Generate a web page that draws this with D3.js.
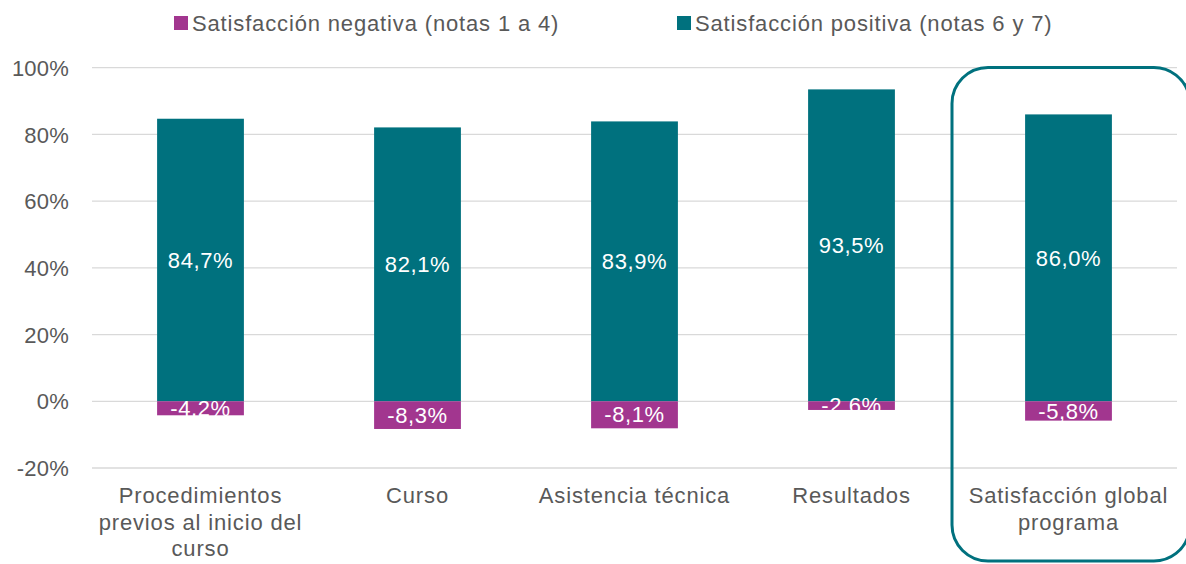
<!DOCTYPE html>
<html>
<head>
<meta charset="utf-8">
<script src="https://cdn.jsdelivr.net/npm/d3@7"></script>
<style>
  html, body { margin: 0; padding: 0; background: #fff; overflow: hidden; }
  svg { display: block; overflow: hidden; font-family: "Liberation Sans", Arial, sans-serif; }
</style>
</head>
<body>
<svg id="chart" width="1186" height="564"></svg>
<script>
const categories = [
  ["Procedimientos", "previos al inicio del", "curso"],
  ["Curso"],
  ["Asistencia técnica"],
  ["Resultados"],
  ["Satisfacción global", "programa"]
];
const negativeValues = [-4.2, -8.3, -8.1, -2.6, -5.8];
const positiveValues = [84.7, 82.1, 83.9, 93.5, 86.0];
const yTicks = [-20, 0, 20, 40, 60, 80, 100];
const seriesNames = ["Satisfacción negativa (notas 1 a 4)", "Satisfacción positiva (notas 6 y 7)"];
const colors = { neg: "#A2368F", pos: "#00717E", grid: "#D9D9D9", text: "#595959" };

const svg = d3.select("#chart");
const x = d3.scaleBand().domain(d3.range(categories.length)).range([92, 1177]).paddingInner(0.6).paddingOuter(0.3);
const y = d3.scaleLinear().domain([-20, 100]).range([468, 67.7]);

// gridlines
svg.append("g").selectAll("line").data(yTicks).join("line")
  .attr("x1", 92).attr("x2", 1177)
  .attr("y1", d => y(d)).attr("y2", d => y(d))
  .attr("stroke", colors.grid).attr("stroke-width", 1.3);

// y axis labels
const yAxis = d3.axisLeft(y).tickValues(yTicks).tickSize(0).tickPadding(0).tickFormat(d => d + "%");
const ya = svg.append("g").attr("transform", "translate(69,0)").call(yAxis);
ya.select(".domain").remove();
ya.selectAll("text").attr("fill", colors.text).style("font-size", "22px")
  .style("letter-spacing", "0.2px")
  .style("font-family", "'Liberation Sans', Arial, sans-serif").attr("dy", "0.35em");

function fmt(v) { return v.toFixed(1).replace(".", ",") + "%"; }

// positive bars
svg.append("g").selectAll("rect").data(positiveValues).join("rect")
  .attr("x", (d, i) => x(i)).attr("width", x.bandwidth())
  .attr("y", d => y(d)).attr("height", d => y(0) - y(d))
  .attr("fill", colors.pos);
// negative bars
svg.append("g").selectAll("rect").data(negativeValues).join("rect")
  .attr("x", (d, i) => x(i)).attr("width", x.bandwidth())
  .attr("y", y(0)).attr("height", d => y(d) - y(0))
  .attr("fill", colors.neg);

// labels
svg.append("g").selectAll("text").data(positiveValues).join("text")
  .attr("x", (d, i) => x(i) + x.bandwidth() / 2)
  .attr("y", d => (y(d) + y(0)) / 2).attr("dy", "0.35em")
  .attr("text-anchor", "middle").attr("fill", "#fff").style("font-size", "22px")
  .style("letter-spacing", "0.6px")
  .text(fmt);
svg.append("g").selectAll("text").data(negativeValues).join("text")
  .attr("x", (d, i) => x(i) + x.bandwidth() / 2)
  .attr("y", d => (y(d) + y(0)) / 2).attr("dy", "0.35em")
  .attr("text-anchor", "middle").attr("fill", "#fff").style("font-size", "22px")
  .style("letter-spacing", "0.6px")
  .text(fmt);

// category labels
const cl = svg.append("g").selectAll("text").data(categories).join("text")
  .attr("x", (d, i) => x(i) + x.bandwidth() / 2)
  .attr("y", 503)
  .attr("text-anchor", "middle").attr("fill", colors.text).style("font-size", "22px")
  .style("letter-spacing", "0.85px");
cl.selectAll("tspan").data(d => d).join("tspan")
  .attr("x", function() { return d3.select(this.parentNode).attr("x"); })
  .attr("dy", (d, i) => i === 0 ? 0 : 26.5)
  .text(d => d);

// highlight rounded outline; its right side runs off the canvas
const hx0 = 952, hy0 = 67.5, hy1 = 561, hr = 36, hxEdge = 1186;
const hl = d3.path();
hl.moveTo(hxEdge, hy0 + 16);
hl.arcTo(hxEdge - 4, hy0, hxEdge - hr, hy0, hr);
hl.lineTo(hx0 + hr, hy0);
hl.arcTo(hx0, hy0, hx0, hy0 + hr, hr);
hl.lineTo(hx0, hy1 - hr);
hl.arcTo(hx0, hy1, hx0 + hr, hy1, hr);
hl.lineTo(hxEdge - hr, hy1);
hl.arcTo(hxEdge - 4, hy1, hxEdge, hy1 - 16, hr);
svg.append("path").attr("d", hl.toString())
  .attr("fill", "none").attr("stroke", colors.pos).attr("stroke-width", 3);

// legend
const legendX = [174, 677];
const lg = svg.append("g").selectAll("g").data(seriesNames).join("g")
  .attr("transform", (d, i) => `translate(${legendX[i]},0)`);
lg.append("rect").attr("x", 0).attr("y", 16).attr("width", 14).attr("height", 14)
  .attr("fill", (d, i) => i === 0 ? colors.neg : colors.pos);
lg.append("text").attr("x", 18).attr("y", 31).attr("fill", colors.text)
  .style("font-size", "22px").style("letter-spacing", "0.85px").text(d => d);
</script>
</body>
</html>
